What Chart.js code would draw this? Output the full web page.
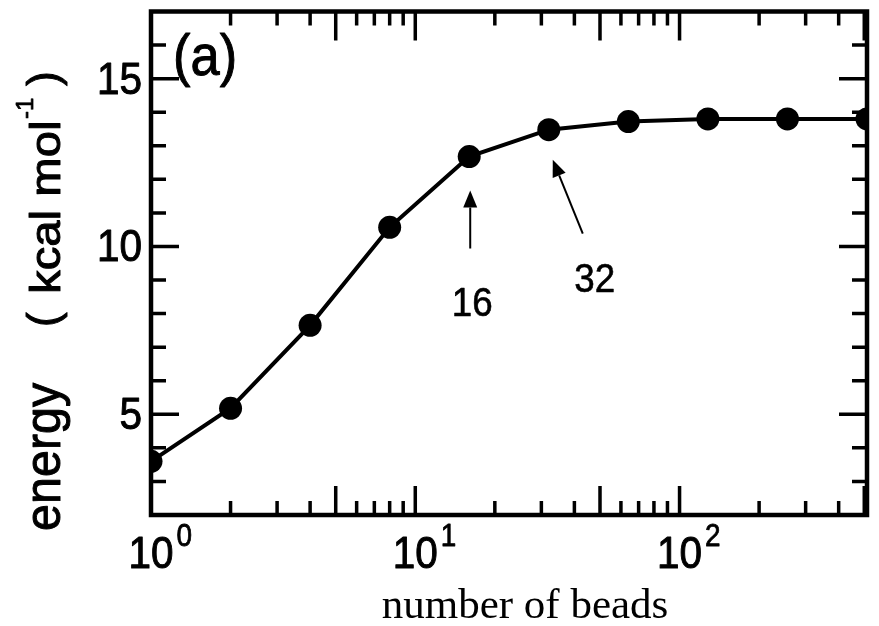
<!DOCTYPE html>
<html>
<head>
<meta charset="utf-8">
<script src="https://cdn.jsdelivr.net/npm/chart.js@4.4.1/dist/chart.umd.min.js"></script>
<style>
  html, body { margin: 0; padding: 0; background: #fff; }
  #wrap { width: 879px; height: 626px; }
</style>
</head>
<body>
<div id="wrap"><canvas id="myChart" width="879" height="626"></canvas></div>
<script>
// number of beads vs energy (kcal/mol)
const beads = [1, 2, 4, 8, 16, 32, 64, 128, 256, 512];
const energy = [3.6, 5.18, 7.65, 10.57, 12.68, 13.48, 13.72, 13.8, 13.8, 13.8];

const xMajorTicks = [5, 10, 50, 100, 500];
const xMinorTicks = [2, 3, 4, 6, 7, 8, 9, 20, 30, 40, 60, 70, 80, 90, 200, 300, 400];
const xTickLabels = [{ value: 1, exp: '0' }, { value: 10, exp: '1' }, { value: 100, exp: '2' }];
const yMajorTicks = [5, 10, 15];
const yMinorTicks = [3, 4, 6, 7, 8, 9, 11, 12, 13, 14, 16];
const yTickLabels = ['5', '10', '15'];
const arrowNotes = [{ beads: 16, label: '16' }, { beads: 32, label: '32' }];

const SANS = "'Liberation Sans', Arial, Helvetica, sans-serif";
const SERIF = "'Liberation Serif', 'Times New Roman', serif";

// draws text with a horizontal squeeze and a thin outline so it looks as heavy as the scan
function txt(ctx, s, x, y, font, sx, align, heavy) {
    ctx.save();
    ctx.translate(x, y);
    ctx.scale(sx, 1);
    ctx.font = font;
    ctx.textAlign = align || 'left';
    ctx.textBaseline = 'alphabetic';
    ctx.fillText(s, 0, 0);
    if (heavy) {
        ctx.lineWidth = heavy;
        ctx.lineJoin = 'round';
        ctx.strokeText(s, 0, 0);
    }
    const w = ctx.measureText(s).width * sx;
    ctx.restore();
    return w;
}

function arrow(ctx, x1, y1, x2, y2) {
    const ang = Math.atan2(y2 - y1, x2 - x1);
    const hl = 17, hw = 7;
    const bx = x2 - hl * Math.cos(ang), by = y2 - hl * Math.sin(ang);
    ctx.lineWidth = 2;
    ctx.beginPath();
    ctx.moveTo(x1, y1);
    ctx.lineTo(bx, by);
    ctx.stroke();
    ctx.beginPath();
    ctx.moveTo(x2, y2);
    ctx.lineTo(bx + hw * Math.sin(ang), by - hw * Math.cos(ang));
    ctx.lineTo(bx - hw * Math.sin(ang), by + hw * Math.cos(ang));
    ctx.closePath();
    ctx.fill();
}

const frame = {
    id: 'frame',
    afterDatasetsDraw(chart) {
        const ctx = chart.ctx;
        const a = chart.chartArea;
        const xs = chart.scales.x, ys = chart.scales.y;
        ctx.save();
        ctx.strokeStyle = '#000';
        ctx.fillStyle = '#000';
        ctx.lineCap = 'butt';

        // inward ticks on all four sides
        ctx.lineWidth = 3.5;
        const tickX = (v, len) => {
            const px = xs.getPixelForValue(v);
            ctx.beginPath();
            ctx.moveTo(px, a.bottom); ctx.lineTo(px, a.bottom - len);
            ctx.moveTo(px, a.top); ctx.lineTo(px, a.top + len);
            ctx.stroke();
        };
        const tickY = (v, len) => {
            const py = ys.getPixelForValue(v);
            ctx.beginPath();
            ctx.moveTo(a.left, py); ctx.lineTo(a.left + len, py);
            ctx.moveTo(a.right, py); ctx.lineTo(a.right - len, py);
            ctx.stroke();
        };
        xMajorTicks.forEach(v => tickX(v, 29));
        xMinorTicks.forEach(v => tickX(v, 14));
        yMajorTicks.forEach(v => tickY(v, 28));
        yMinorTicks.forEach(v => tickY(v, 15));

        // frame
        ctx.lineWidth = 4.5;
        ctx.strokeRect(a.left, a.top, a.right - a.left, a.bottom - a.top);

        // y tick labels
        yMajorTicks.forEach((v, i) => {
            txt(ctx, yTickLabels[i], a.left - 9, ys.getPixelForValue(v) + 15, '45px ' + SANS, 0.9, 'right', 1);
        });

        // x tick labels 10^n
        xTickLabels.forEach(t => {
            const px = xs.getPixelForValue(t.value);
            ctx.font = '45px ' + SANS;
            const w = ctx.measureText('10').width * 0.9;
            txt(ctx, '10', px, a.bottom + 53, '45px ' + SANS, 0.9, 'center', 1);
            txt(ctx, t.exp, px + w / 2 + 3, a.bottom + 31, '31px ' + SANS, 0.9, 'left', 0.8);
        });

        // x title
        txt(ctx, 'number of beads', 525, 618, '43px ' + SERIF, 1, 'center');

        // y title, rotated, laid out piece by piece
        ctx.save();
        ctx.rotate(-Math.PI / 2);
        txt(ctx, 'energy', -531, 60, '50px ' + SANS, 0.97, 'left', 1);
        txt(ctx, '(', -327, 58, '44px ' + SANS, 1, 'left', 1);
        txt(ctx, 'kcal mol', -294, 60, '43px ' + SANS, 1.1, 'left', 1);
        txt(ctx, '-1', -119, 33, '24px ' + SANS, 1, 'left', 0.8);
        txt(ctx, ')', -86, 58, '44px ' + SANS, 1, 'left', 1);
        ctx.restore();

        // panel label
        txt(ctx, '(a)', a.left + 22, 75, '57px ' + SANS, 0.92, 'left', 1);

        // arrows pointing at 16 and 32 beads
        const p16 = { x: xs.getPixelForValue(16), y: ys.getPixelForValue(energy[beads.indexOf(16)]) };
        const p32 = { x: xs.getPixelForValue(32), y: ys.getPixelForValue(energy[beads.indexOf(32)]) };
        arrow(ctx, p16.x + 1, p16.y + 92, p16.x + 1, p16.y + 34);
        arrow(ctx, p32.x + 34, p32.y + 104, p32.x + 4, p32.y + 30);
        txt(ctx, arrowNotes[0].label, p16.x + 3, p16.y + 159, '40px ' + SANS, 0.92, 'center', 0.6);
        txt(ctx, arrowNotes[1].label, p32.x + 46, p32.y + 162, '40px ' + SANS, 0.92, 'center', 0.6);

        ctx.restore();
    }
};

const canvas = document.getElementById('myChart');
new Chart(canvas, {
    type: 'line',
    data: {
        datasets: [{
            data: beads.map((b, i) => ({ x: b, y: energy[i] })),
            borderColor: '#000',
            backgroundColor: '#000',
            borderWidth: 4,
            pointRadius: 11.5,
            pointBackgroundColor: '#000',
            pointBorderWidth: 0,
            tension: 0,
            clip: 0
        }]
    },
    options: {
        responsive: false,
        animation: false,
        layout: { padding: { left: 151, right: 12, top: 11, bottom: 111 } },
        plugins: { legend: { display: false }, tooltip: { enabled: false } },
        scales: {
            x: { type: 'logarithmic', min: 1, max: 512, display: false },
            y: { type: 'linear', min: 2, max: 17, display: false }
        }
    },
    plugins: [frame]
});
</script>
</body>
</html>
